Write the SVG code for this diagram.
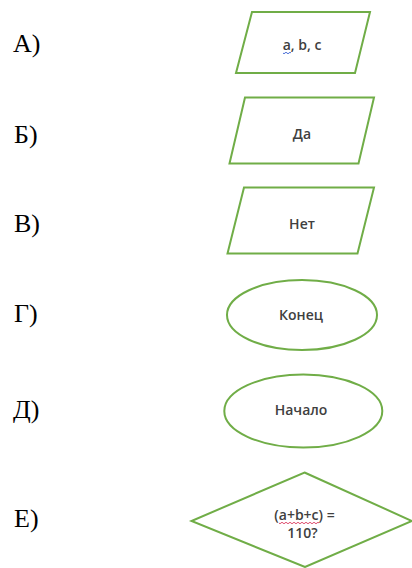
<svg xmlns="http://www.w3.org/2000/svg" width="412" height="568" viewBox="0 0 412 568">
<style>
.lbl{font-family:"Liberation Serif","Times New Roman",serif;font-size:26px;fill:#000}
.sh{fill:#fff;stroke:#70AD47;stroke-width:2}
.tx{font-family:"Open Sans","Liberation Sans",sans-serif;font-size:14px;font-weight:600;fill:#404040;text-anchor:middle}
.wavy{fill:none;stroke-width:1}
</style>
<rect width="412" height="568" fill="#fff"/>
<g id="labels">
<text class="lbl" x="13" y="52">А)</text>
<text class="lbl" x="14" y="143">Б)</text>
<text class="lbl" x="14" y="232">В)</text>
<text class="lbl" x="14" y="322">Г)</text>
<text class="lbl" x="13" y="418">Д)</text>
<text class="lbl" x="14" y="527">Е)</text>
</g>
<g id="nodeA">
<polygon class="sh" points="252,12 370,12 355,73 236,73"/>
<text class="tx" x="302" y="50">a, b, c</text>
<path class="wavy" stroke="#4a6fd8" d="M283,53 q1,1.5 2,0 t2,0 t2,0 t2,0"/>
</g>
<g id="nodeB">
<polygon class="sh" points="245,97.5 374,97.5 358.5,163.5 229.5,163.5"/>
<text class="tx" x="302" y="139">Да</text>
</g>
<g id="nodeC">
<polygon class="sh" points="244,187.5 374,187.5 357.5,253.5 227.5,253.5"/>
<text class="tx" x="302" y="229">Нет</text>
</g>
<g id="nodeD">
<ellipse class="sh" cx="302" cy="315" rx="75" ry="35"/>
<text class="tx" x="301" y="320">Конец</text>
</g>
<g id="nodeE">
<ellipse class="sh" cx="303.3" cy="411" rx="79" ry="36.5"/>
<text class="tx" x="301" y="415">Начало</text>
</g>
<g id="nodeF">
<polygon class="sh" points="304.5,472.5 412,521 305,567 191.5,521"/>
<text class="tx" x="304.5" y="520">(a+b+c) =</text>
<text class="tx" x="302.5" y="538">110?</text>
<path class="wavy" stroke="#e05070" d="M279,523 q1,1.5 2,0 t2,0 t2,0 t2,0 t2,0 t2,0 t2,0 t2,0 t2,0 t2,0 t2,0 t2,0 t2,0 t2,0 t2,0 t2,0 t2,0 t2,0 t2,0 t2,0"/>
</g>
<g id="connectors"></g>
</svg>
